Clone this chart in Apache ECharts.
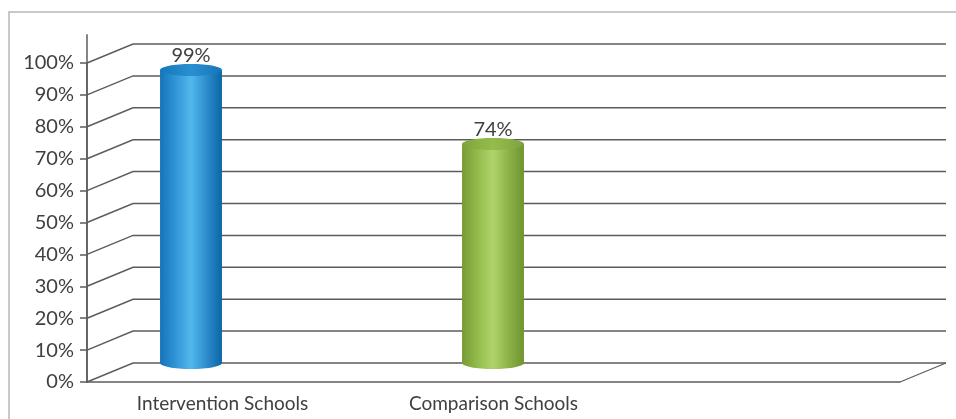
<!DOCTYPE html>
<html>
<head>
<meta charset="utf-8">
<script src="https://cdn.jsdelivr.net/npm/echarts@6/dist/echarts.min.js"></script>
<style>
  html, body { margin:0; padding:0; background:#fff; overflow:hidden; }
  #frame { position:absolute; left:8px; top:11px; width:960px; height:420px;
           border-left:2px solid #c9c9c9; border-top:2px solid #c9c9c9; box-sizing:border-box; }
  #chart { position:absolute; left:0; top:0; width:956px; height:419px; }
</style>
</head>
<body>
<div id="frame"></div>
<div id="chart"></div>
<script>
// ---- data ----
const categories = ['Intervention Schools', 'Comparison Schools', ''];
const values = [99, 74];
const yTicks = [0, 10, 20, 30, 40, 50, 60, 70, 80, 90, 100];

// ---- styles ----
const FONT = 'Lato, "Noto Sans", sans-serif';
const TEXT = '#404040';
const LINE = '#5c5c5c';
const DX = 46, DY = -19;          // depth offset of the back wall
const AXIS_EXT = 109;            // top of the front vertical axis line (in axis units)
const BAR_RATIO = 0.205;
const barStyles = [
  { body: ['#1674b8', '#2f95d6', '#52b8ec', '#2d8ccd', '#0b67a6'], cap: ['#1577bb', '#2a8fd2', '#1675b8'] },
  { body: ['#779b34', '#93bb4c', '#b0d46b', '#8db347', '#6f9330'], cap: ['#7ea43a', '#94bd4d', '#7ea43a'] }
];

function grad(cols) {
  const n = cols.length;
  return new echarts.graphic.LinearGradient(0, 0, 1, 0,
    cols.map((c, i) => ({ offset: i / (n - 1), color: c })));
}

const chart = echarts.init(document.getElementById('chart'), null, { renderer: 'canvas' });

function renderWall(params, api) {
  const v = api.value(1);
  const bw = api.size([1, 0])[0];
  const p0 = api.coord([0, v]);
  const pN = api.coord([categories.length - 1, v]);
  const x0 = p0[0] - bw / 2, x1 = pN[0] + bw / 2, y = p0[1];
  const children = [{
    type: 'polyline',
    shape: { points: [[x0, y], [x0 + DX, y + DY], [x1 + DX, y + DY]] },
    style: { stroke: LINE, lineWidth: 1.5, fill: null }
  }];
  if (v === 0) {
    children.push({
      type: 'line', shape: { x1: x1, y1: y, x2: x1 + DX, y2: y + DY },
      style: { stroke: LINE, lineWidth: 1.2 }
    });
    const top = api.coord([0, AXIS_EXT]);
    children.push({
      type: 'line', shape: { x1: x0, y1: y, x2: x0, y2: top[1] },
      style: { stroke: LINE, lineWidth: 1.5 }
    });
  }
  return { type: 'group', children: children };
}

function renderBar(params, api) {
  const i = api.value(0), v = api.value(1);
  const top = api.coord([i, v]);
  const base = api.coord([i, 0]);
  const w = api.size([1, 0])[0] * BAR_RATIO;
  const rx = w / 2, ry = 6;
  const st = barStyles[params.dataIndex % barStyles.length];
  const g = grad(st.body);
  return {
    type: 'group',
    children: [
      { type: 'rect', shape: { x: top[0] - rx, y: top[1], width: w, height: base[1] - top[1] }, style: { fill: g } },
      { type: 'ellipse', shape: { cx: top[0], cy: base[1], rx: rx, ry: ry }, style: { fill: g } },
      { type: 'ellipse', shape: { cx: top[0], cy: top[1], rx: rx, ry: ry }, style: { fill: grad(st.cap) } },
      { type: 'text', style: { text: v + '%', x: top[0], y: top[1] - ry + 2, align: 'center', verticalAlign: 'bottom',
          font: '20px ' + FONT, fill: TEXT } }
    ]
  };
}

chart.setOption({
  animation: false,
  grid: [
    { left: 87, right: 56, top: 63, bottom: 37 },   // front axes
    { left: 40, width: 906, top: 67, bottom: 56 }    // cylinders (perspective plane)
  ],
  xAxis: [
    { type: 'category', gridIndex: 0, data: categories,
      axisLine: { lineStyle: { color: LINE, width: 1.5 } },
      axisTick: { length: 12, interval: 0, lineStyle: { color: LINE, width: 1.5 } },
      axisLabel: { interval: 0, margin: 12, color: TEXT, fontFamily: FONT, fontSize: 19 },
      splitLine: { show: false } },
    { type: 'category', gridIndex: 1, data: categories, show: false }
  ],
  yAxis: [
    { type: 'value', gridIndex: 0, min: 0, max: 100, interval: 10,
      axisLine: { show: true, lineStyle: { color: LINE, width: 1.5 } },
      axisTick: { show: true, length: 7, lineStyle: { color: LINE, width: 1.5 } },
      axisLabel: { formatter: '{value}%', margin: 13, color: TEXT, fontFamily: FONT, fontSize: 20 },
      splitLine: { show: false } },
    { type: 'value', gridIndex: 1, min: 0, max: 100, show: false }
  ],
  series: [
    { type: 'custom', xAxisIndex: 0, yAxisIndex: 0, renderItem: renderWall,
      data: yTicks.map(v => [0, v]), encode: { x: 0, y: 1 }, silent: true, z: 1 },
    { type: 'custom', xAxisIndex: 1, yAxisIndex: 1, renderItem: renderBar,
      data: values.map((v, i) => [i, v]), encode: { x: 0, y: 1 }, z: 5 }
  ]
});
</script>
</body>
</html>
